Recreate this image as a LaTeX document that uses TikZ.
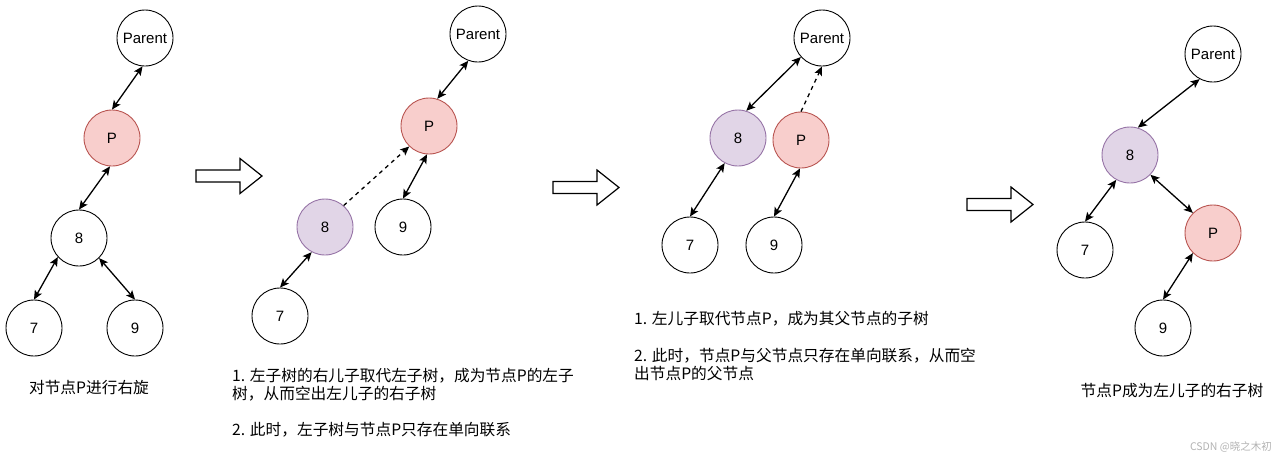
\documentclass[tikz,border=0pt]{standalone}
\usepackage{fontspec}
\setmainfont{Liberation Sans}
\newfontfamily\cjk{Noto Sans CJK SC}
\usetikzlibrary{arrows.meta}
\definecolor{pfill}{HTML}{F8CECC}
\definecolor{pline}{HTML}{B85450}
\definecolor{efill}{HTML}{E1D5E7}
\definecolor{eline}{HTML}{9673A6}
\tikzset{
  tnode/.style={circle,draw=black,fill=white,line width=0.9pt,minimum size=56pt,inner sep=0pt,font=\fontsize{15}{15}\selectfont},
  pnode/.style={tnode,draw=pline,fill=pfill},
  enode/.style={tnode,draw=eline,fill=efill},
  link/.style={line width=1.3pt,{Stealth[length=9pt,width=8pt,inset=2pt]}-{Stealth[length=9pt,width=8pt,inset=2pt]}},
  halflink/.style={line width=1.3pt,dash pattern=on 4pt off 4pt,-{Stealth[length=9pt,width=8pt,inset=2pt]}},
  caption/.style={inner sep=0pt,font=\cjk\fontsize{15.7}{18}\selectfont},
  hollowarrow/.pic={\draw[line width=1.2pt,fill=white] (0,-6) -- (44,-6) -- (44,-17.5) -- (66,0) -- (44,17.5) -- (44,6) -- (0,6) -- cycle;}
}
\begin{document}
\begin{tikzpicture}[x=1pt,y=-1pt]
\useasboundingbox (0,0) rectangle (1280,456);
% panel 1
\node[tnode] (a0) at (145,38) {Parent};
\node[pnode] (aP) at (112,138) {P};
\node[tnode] (a8) at (79,238) {8};
\node[tnode] (a7) at (34,328) {7};
\node[tnode] (a9) at (135,328) {9};
\draw[link] (a0.265) -- (aP.90);
\draw[link] (aP.266) -- (a8.90);
\draw[link] (a8.222) -- (a7.90);
\draw[link] (a8.315) -- (a9.90);
\node[caption,anchor=base] (c1) at (89,393) {对节点P进行右旋};
\pic at (196,176) {hollowarrow};
% panel 2
\node[tnode] (b0) at (478,34) {Parent};
\node[pnode] (bP) at (429,126) {P};
\node[enode] (b8) at (325,227) {8};
\node[tnode] (b9) at (403,227) {9};
\node[tnode] (b7) at (280,316) {7};
\draw[link] (b0.250) -- (bP.73);
\draw[halflink] (b8.49) -- (bP.226);
\draw[link] (bP.266) -- (b9.90);
\draw[link] (b8.242) -- (b7.90);
\node[caption,anchor=base west] (c2a) at (232,381) {1. 左子树的右儿子取代左子树，成为节点P的左子};
\node[caption,anchor=base west] (c2b) at (232,399) {树，从而空出左儿子的右子树};
\node[caption,anchor=base west] (c2c) at (232,435) {2. 此时，左子树与节点P只存在单向联系};
\pic at (553,187.5) {hollowarrow};
% panel 3
\node[tnode] (d0) at (822,38) {Parent};
\node[enode] (d8) at (738,138) {8};
\node[pnode] (dP) at (801,140) {P};
\node[tnode] (d7) at (690,245) {7};
\node[tnode] (d9) at (774,245) {9};
\draw[link] (d8.73) -- (d0.222);
\draw[halflink] (dP.90) -- (d0.270);
\draw[link] (d8.242) -- (d7.90);
\draw[link] (dP.268) -- (d9.90);
\node[caption,anchor=base west] (c3a) at (634,324) {1. 左儿子取代节点P，成为其父节点的子树};
\node[caption,anchor=base west] (c3b) at (634,361) {2. 此时，节点P与父节点只存在单向联系，从而空};
\node[caption,anchor=base west] (c3c) at (634,379) {出节点P的父节点};
\pic at (967,204.5) {hollowarrow};
% panel 4
\node[tnode] (e0) at (1213,54) {Parent};
\node[enode] (e8) at (1130,155) {8};
\node[tnode] (e7) at (1085,250) {7};
\node[pnode] (eP) at (1213,233) {P};
\node[tnode] (e9) at (1163,328) {9};
\draw[link] (e0.242) -- (e8.74);
\draw[link] (e8.241) -- (e7.90);
\draw[link] (e8.316) -- (eP.135);
\draw[link] (eP.225) -- (e9.90);
\node[caption,anchor=base] (c4) at (1172,396) {节点P成为左儿子的右子树};
\node[inner sep=0pt,anchor=base east,text=black!30,font=\cjk\fontsize{10.5}{12}\selectfont] (wm) at (1272,450) {CSDN @晓之木初};
\end{tikzpicture}
\end{document}
